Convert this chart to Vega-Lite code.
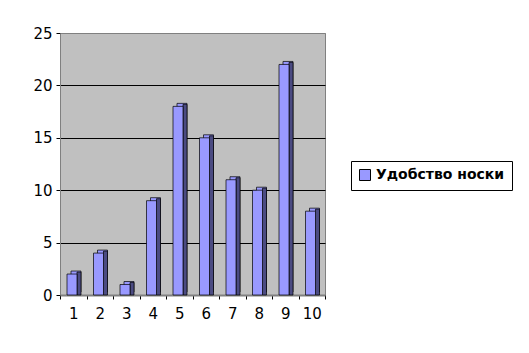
{
  "$schema": "https://vega.github.io/schema/vega-lite/v6.json",
  "autosize": {"type": "none"},
  "width": 265,
  "height": 262,
  "padding": {"left": 60, "top": 33, "right": 204, "bottom": 58},
  "background": "white",
  "config": {
    "view": {"fill": "#C0C0C0", "stroke": "#808080", "strokeWidth": 1},
    "font": "DejaVu Sans"
  },
  "data": {
    "values": [
      {"k": "1", "v": 2, "s": "Удобство носки"},
      {"k": "2", "v": 4, "s": "Удобство носки"},
      {"k": "3", "v": 1, "s": "Удобство носки"},
      {"k": "4", "v": 9, "s": "Удобство носки"},
      {"k": "5", "v": 18, "s": "Удобство носки"},
      {"k": "6", "v": 15, "s": "Удобство носки"},
      {"k": "7", "v": 11, "s": "Удобство носки"},
      {"k": "8", "v": 10, "s": "Удобство носки"},
      {"k": "9", "v": 22, "s": "Удобство носки"},
      {"k": "10", "v": 8, "s": "Удобство носки"}
    ]
  },
  "encoding": {
    "x": {
      "field": "k", "type": "ordinal", "sort": null,
      "scale": {"paddingInner": 0, "paddingOuter": 0},
      "axis": {
        "title": null, "labelAngle": 0, "tickBand": "extent", "grid": false,
        "tickColor": "black", "tickSize": 4, "labelPadding": 7,
        "labelFontSize": 15, "labelColor": "black", "labelFont": "DejaVu Sans",
        "domainColor": "#808080", "domainWidth": 2
      }
    },
    "y": {
      "field": "v", "type": "quantitative",
      "scale": {"domain": [0, 25], "nice": false},
      "axis": {
        "title": null, "values": [0, 5, 10, 15, 20, 25],
        "grid": true,
        "gridColor": {"condition": {"test": "datum.value == 25 || datum.value == 0", "value": "#808080"}, "value": "black"},
        "gridWidth": 1,
        "tickColor": "black", "tickSize": 4, "labelPadding": 4,
        "labelFontSize": 15, "labelColor": "black", "labelFont": "DejaVu Sans",
        "domainColor": "#808080"
      }
    },
    "y2": {"datum": 0}
  },
  "layer": [
    {
      "mark": {"type": "bar", "width": 10, "xOffset": 2.75, "yOffset": -3, "y2Offset": -3, "fill": "#9999FF", "stroke": "black", "strokeWidth": 0.7}
    },
    {
      "mark": {"type": "bar", "width": 4, "xOffset": 5.75, "yOffset": -2, "y2Offset": 0, "fill": "#4B4B82", "stroke": "black", "strokeWidth": 0.7}
    },
    {
      "mark": {"type": "bar", "width": 10, "xOffset": -1.25, "stroke": "black", "strokeWidth": 0.7, "opacity": 1},
      "encoding": {
        "color": {
          "field": "s", "type": "nominal",
          "scale": {"range": ["#9999FF"]},
          "legend": {
            "title": null, "orient": "none", "legendX": 291, "legendY": 128,
            "strokeColor": "black", "padding": 7, "symbolType": "square",
            "symbolSize": 121, "symbolStrokeColor": "black", "symbolStrokeWidth": 1,
            "symbolOpacity": 1,
            "labelFontSize": 14, "labelFont": "DejaVu Sans", "labelFontWeight": "bold", "labelColor": "black",
            "labelLimit": 300, "fillColor": "white"
          }
        }
      }
    }
  ]
}
